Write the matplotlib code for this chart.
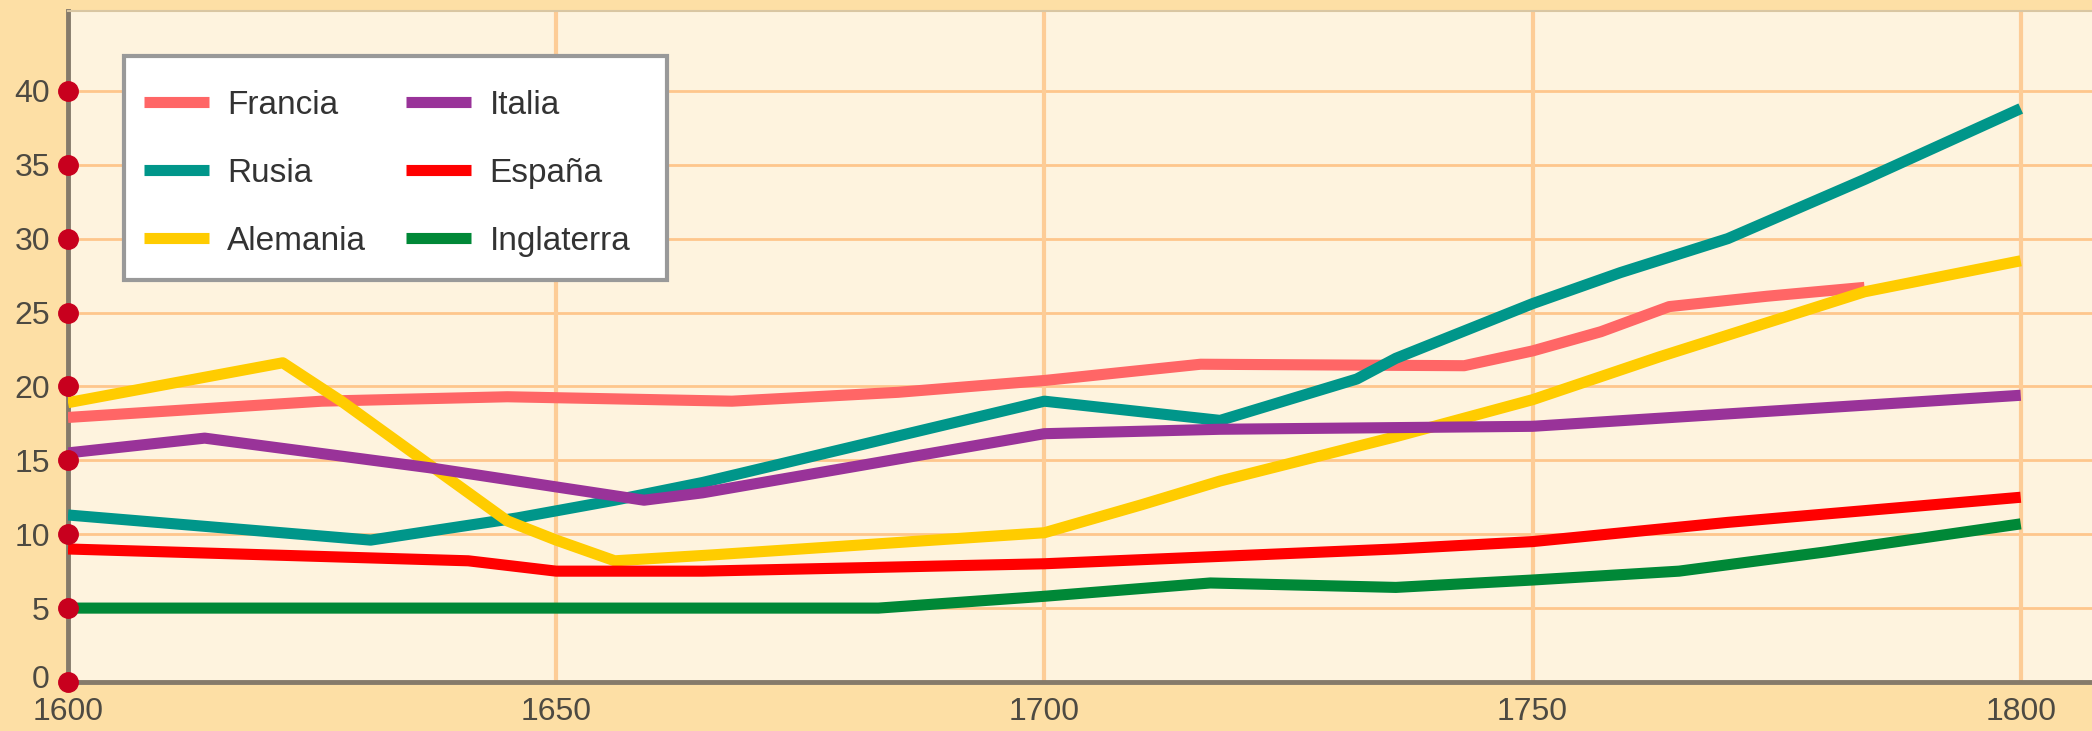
import matplotlib.pyplot as plt
from matplotlib.patches import Rectangle
from matplotlib.transforms import ScaledTranslation

# population (millones) 1600-1800

francia_x = [1600, 1626, 1645, 1668, 1685, 1700, 1716, 1743, 1750, 1757, 1764, 1774, 1784]
francia_y = [17.9, 19.0, 19.3, 19.0, 19.6, 20.4, 21.5, 21.4, 22.4, 23.7, 25.4, 26.1, 26.7]

rusia_x = [1600, 1631, 1646, 1656, 1665, 1700, 1718, 1732, 1736, 1750, 1759, 1770, 1784, 1800]
rusia_y = [11.3, 9.6, 11.1, 12.3, 13.5, 19.0, 17.7, 20.5, 21.9, 25.6, 27.7, 30.0, 34.0, 38.8]

alemania_x = [1600, 1622, 1628, 1645, 1650, 1656, 1666, 1700, 1710, 1718, 1736, 1750, 1763, 1784, 1800]
alemania_y = [18.9, 21.6, 19.0, 10.9, 9.6, 8.2, 8.6, 10.1, 12.0, 13.6, 16.6, 19.1, 22.0, 26.4, 28.5]

italia_x = [1600, 1614, 1637, 1659, 1665, 1700, 1718, 1750, 1800]
italia_y = [15.5, 16.5, 14.5, 12.3, 12.8, 16.8, 17.1, 17.3, 19.4]

espana_x = [1600, 1641, 1650, 1665, 1700, 1736, 1750, 1770, 1800]
espana_y = [9.0, 8.2, 7.5, 7.5, 8.0, 9.0, 9.5, 10.8, 12.5]

inglaterra_x = [1600, 1683, 1700, 1717, 1736, 1750, 1765, 1780, 1800]
inglaterra_y = [5.0, 5.0, 5.8, 6.7, 6.4, 6.9, 7.5, 8.8, 10.7]

names = ["Francia", "Rusia", "Alemania", "Italia", "España", "Inglaterra"]
colors = ["#FF6666", "#00968A", "#FFCC00", "#993399", "#FF0000", "#008837"]

y_ticks = [0, 5, 10, 15, 20, 25, 30, 35, 40]
x_ticks = [1600, 1650, 1700, 1750, 1800]

plt.rcParams['font.family'] = ['Liberation Sans', 'DejaVu Sans']

fig = plt.figure(figsize=(20.92, 7.31), dpi=100, facecolor="#FDDFA5")
ax = fig.add_axes([68/2092, 49/731, 1 - 68/2092, 671/731])
ax.set_facecolor("#FEF3DE")

series = [(francia_x, francia_y), (rusia_x, rusia_y), (alemania_x, alemania_y),
          (italia_x, italia_y), (espana_x, espana_y), (inglaterra_x, inglaterra_y)]
for (xs, ys), name, c in zip(series, names, colors):
    ax.plot(xs, ys, color=c, lw=8, label=name, solid_joinstyle="round",
            solid_capstyle="butt", zorder=3)

ax.set_xlim(1600, 1807.3)
ax.set_ylim(0, 45.4)
ax.set_xticks(x_ticks)
ax.set_yticks(y_ticks)

# grid
for y in y_ticks[1:]:
    ax.axhline(y, color="#FEC68C", lw=2, zorder=1)
for x in x_ticks[1:]:
    ax.axvline(x, color="#FDCC96", lw=3, zorder=1)

# red dots on the y axis
ax.plot([1600] * len(y_ticks), y_ticks, "o", color="#C8001E", ms=14,
        clip_on=False, zorder=5)

for s in ["left", "bottom"]:
    ax.spines[s].set_color("#857A6A")
    ax.spines[s].set_linewidth(3.5)
ax.spines["top"].set_color("#D9C6A2")
ax.spines["top"].set_linewidth(1.5)
ax.spines["right"].set_visible(False)

ax.tick_params(axis="y", length=0, pad=13, labelsize=23, labelcolor="#4D4A42")
ax.tick_params(axis="x", length=0, pad=11, labelsize=23, labelcolor="#4D4A42")

# legend box drawn by hand, legend entries placed inside it
ax.add_patch(Rectangle((0.0277, 0.599), 0.2683, 0.334, transform=ax.transAxes,
                       facecolor="white", edgecolor="#999999", lw=3, zorder=5))
leg = ax.legend(ncol=2, loc="upper left", bbox_to_anchor=(0.0375, 0.883),
                borderaxespad=0, borderpad=0, fontsize=24, frameon=False,
                handlelength=1.95, handletextpad=0.55, labelspacing=1.11,
                columnspacing=1.2)
for t in leg.get_texts():
    t.set_color("#333333")
leg.set_zorder(6)

# nudge the "0" label up a bit so it clears "1600"
lab0 = ax.yaxis.get_major_ticks()[0].label1
lab0.set_transform(lab0.get_transform() + ScaledTranslation(0, 4/72, fig.dpi_scale_trans))

fig.savefig("out.png", dpi=100, facecolor=fig.get_facecolor())
